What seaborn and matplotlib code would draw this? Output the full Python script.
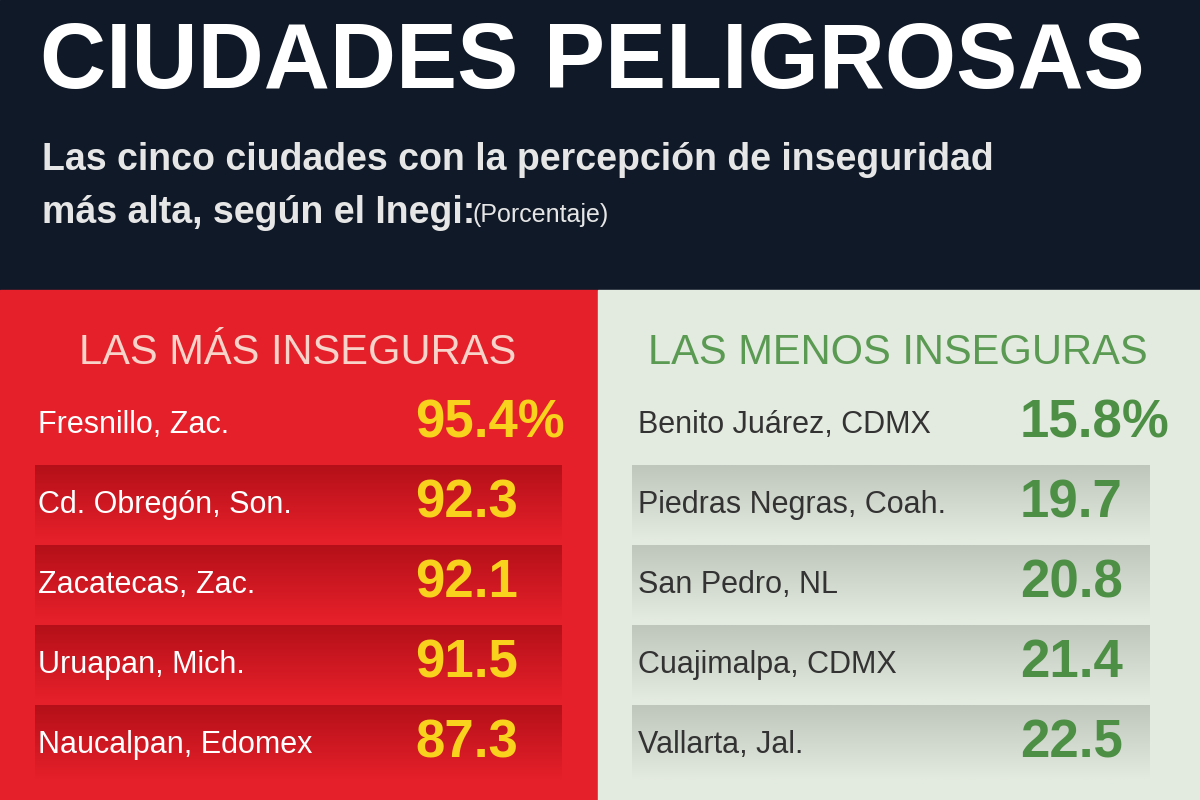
import numpy as np
import matplotlib
matplotlib.use("Agg")
import matplotlib.pyplot as plt
import seaborn as sns
from matplotlib.colors import LinearSegmentedColormap

sns.set_theme(style="white")
plt.rcParams['font.family'] = ['Liberation Sans', 'DejaVu Sans']

title = "CIUDADES PELIGROSAS"
subtitle1 = "Las cinco ciudades con la percepción de inseguridad"
subtitle2 = "más alta, según el Inegi:"
unit = "(Porcentaje)"
left_header = "LAS MÁS INSEGURAS"
right_header = "LAS MENOS INSEGURAS"
left_cities = ["Fresnillo, Zac.", "Cd. Obregón, Son.", "Zacatecas, Zac.", "Uruapan, Mich.", "Naucalpan, Edomex"]
left_values = [95.4, 92.3, 92.1, 91.5, 87.3]
right_cities = ["Benito Juárez, CDMX", "Piedras Negras, Coah.", "San Pedro, NL", "Cuajimalpa, CDMX", "Vallarta, Jal."]
right_values = [15.8, 19.7, 20.8, 21.4, 22.5]

fig = plt.figure(figsize=(12, 8), dpi=100)
ax = fig.add_axes([0, 0, 1, 1])
ax.axis('off')

ax.add_patch(plt.Rectangle((0, 0), 1200, 290, color='#0f1928'))
ax.add_patch(plt.Rectangle((0, 290), 598, 510, color='#e5202a'))
ax.add_patch(plt.Rectangle((598, 290), 602, 510, color='#e3eadf'))

grad = np.linspace(0, 1, 50).reshape(-1, 1)
cmL = LinearSegmentedColormap.from_list('l', ['#e5202a', '#b51019'])
cmR = LinearSegmentedColormap.from_list('r', ['#e3eadf', '#bfc6bc'])
centers = [425, 505, 585, 665, 745]
for i, c in enumerate(centers):
    if i > 0:
        ax.imshow(grad, extent=(35, 562, c - 40, c + 35), cmap=cmL, aspect='auto', zorder=1)
        ax.imshow(grad, extent=(632, 1150, c - 40, c + 35), cmap=cmR, aspect='auto', zorder=1)
ax.set_xlim(0, 1200); ax.set_ylim(800, 0)

ax.text(40, 64, title, color='white', fontsize=66, fontweight='bold', va='center')
ax.text(42, 160, subtitle1, color='#e6e6e6', fontsize=27, fontweight='bold', va='center')
ax.text(42, 213, subtitle2, color='#e6e6e6', fontsize=27, fontweight='bold', va='center')
ax.text(472, 215, unit, color='#e6e6e6', fontsize=18, va='center')

ax.text(298, 353, left_header, color='#f7d3c9', fontsize=30, ha='center', va='center')
ax.text(898, 353, right_header, color='#5a9a52', fontsize=30, ha='center', va='center')

for i, c in enumerate(centers):
    ax.text(38, c, left_cities[i], color='white', fontsize=22, va='center', zorder=3)
    ax.text(415, c - 2, f"{left_values[i]}" + ("%" if i == 0 else ""), color='#f8d21c', fontsize=38, fontweight='bold', va='center', zorder=3)
    ax.text(638, c, right_cities[i], color='#333333', fontsize=22, va='center', zorder=3)
    ax.text(1020, c - 2, f"{right_values[i]}" + ("%" if i == 0 else ""), color='#4d8f45', fontsize=38, fontweight='bold', va='center', zorder=3)

fig.savefig("out.png", dpi=100)
